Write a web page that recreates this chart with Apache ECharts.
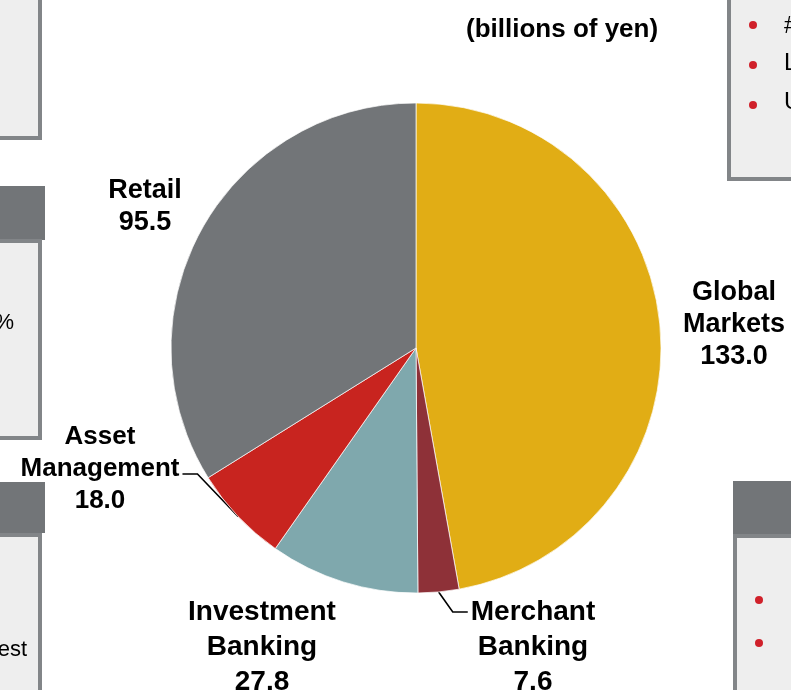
<!DOCTYPE html>
<html>
<head>
<meta charset="utf-8">
<script src="https://cdn.jsdelivr.net/npm/echarts@6/dist/echarts.min.js"></script>
<style>
  html, body { margin: 0; padding: 0; background: #fff; }
  #main { width: 791px; height: 690px; }
</style>
</head>
<body>
<div id="main"></div>
<script>
// data
const segments = ['Global Markets', 'Merchant Banking', 'Investment Banking', 'Asset Management', 'Retail'];
const segmentLines = [['Global', 'Markets'], ['Merchant', 'Banking'], ['Investment', 'Banking'], ['Asset', 'Management'], ['Retail']];
const values = [133.0, 7.6, 27.8, 18.0, 95.5];
const unitText = '(billions of yen)';

const colors = ['#E1AD15', '#8E3138', '#7FA8AD', '#C8241F', '#727578'];
const FONT = '"Liberation Sans", Arial, sans-serif';

// label centres (text only) and text sizes
const labelPos = { 0: [734, 325], 1: [533, 647], 2: [262, 647], 3: [100, 469], 4: [145, 207] };
const labelFont = [27, 28, 28, 26, 27];
const labelLineH = [32, 35, 35, 32, 32];
const withLeader = [false, true, false, true, false];

const pieData = segments.map((name, i) => ({
  name: name,
  value: values[i],
  itemStyle: { color: colors[i] },
  label: {
    formatter: segmentLines[i].concat(values[i].toFixed(1)).join('\n'),
    fontSize: labelFont[i],
    lineHeight: labelLineH[i]
  },
  labelLine: { show: withLeader[i] }
}));

function boxRect(x, y, w, h) {
  return { type: 'rect', shape: { x: x, y: y, width: w, height: h }, style: { fill: '#EEEEEE', stroke: '#828588', lineWidth: 4 }, silent: true };
}
function headRect(x, y, w, h) {
  return { type: 'rect', shape: { x: x, y: y, width: w, height: h }, style: { fill: '#727578' }, silent: true };
}
function bullet(x, y) {
  return { type: 'circle', shape: { cx: x, cy: y, r: 4 }, style: { fill: '#D0202A' }, silent: true };
}
function frag(text, x, y, align, size) {
  return { type: 'text', x: x, y: y, style: { text: text, fontSize: size, fontFamily: FONT, fill: '#000', align: align, verticalAlign: 'middle' }, silent: true };
}

const chart = echarts.init(document.getElementById('main'), null, { renderer: 'canvas' });

chart.setOption({
  animation: false,
  backgroundColor: '#ffffff',
  title: {
    text: unitText,
    left: 466,
    top: 17,
    padding: 0,
    textStyle: { fontSize: 26, fontWeight: 'bold', color: '#000', fontFamily: FONT }
  },
  // surrounding slide panels (partly cut off)
  graphic: [
    boxRect(-10, -10, 50, 148),
    headRect(-10, 186, 55, 54),
    boxRect(-10, 241, 50, 197),
    frag('%', 14, 323, 'right', 22),
    headRect(-10, 482, 55, 51),
    boxRect(-10, 535, 50, 170),
    frag('est', 27, 650, 'right', 22),
    boxRect(729, -10, 80, 189),
    bullet(753, 25), bullet(753, 65), bullet(753, 105),
    frag('#', 784, 26, 'left', 24), frag('L', 784, 63, 'left', 24), frag('U', 784, 102, 'left', 24),
    headRect(733, 481, 70, 53),
    boxRect(735, 536, 70, 170),
    bullet(759, 600), bullet(759, 643)
  ],
  series: [{
    type: 'pie',
    center: [416, 348],
    radius: 245,
    startAngle: 90,
    clockwise: true,
    avoidLabelOverlap: false,
    itemStyle: { borderColor: '#ffffff', borderWidth: 0.7 },
    label: {
      show: true,
      position: 'outside',
      color: '#000',
      fontWeight: 'bold',
      fontFamily: FONT
    },
    labelLine: { lineStyle: { color: '#000', width: 1.6 }, smooth: false },
    labelLayout: function (params) {
      const i = params.dataIndex;
      const p = labelPos[i];
      const w = params.labelRect.width;
      const out = { x: p[0], y: p[1], align: 'center', verticalAlign: 'middle' };
      const pts = params.labelLinePoints;
      if (withLeader[i] && pts) {
        const start = [pts[0][0], pts[0][1]];
        if (i === 3) {
          // leader leaves the right end of the middle line
          const ex = p[0] + w / 2 + 3, ey = p[1] + 5;
          out.labelLinePoints = [start, [ex + 15, ey], [ex, ey]];
        } else {
          // leader enters the left end of the first line
          const ex = p[0] - w / 2 - 3, ey = p[1] - labelLineH[i];
          out.labelLinePoints = [start, [ex - 15, ey], [ex, ey]];
        }
      }
      return out;
    },
    emphasis: { disabled: true },
    data: pieData
  }]
});
</script>
</body>
</html>
